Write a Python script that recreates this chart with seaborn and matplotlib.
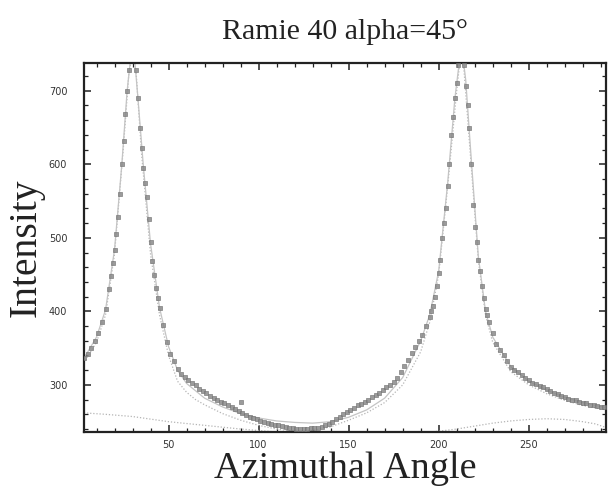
import matplotlib
matplotlib.use("Agg")
import matplotlib.pyplot as plt
import seaborn as sns
import pandas as pd
from matplotlib.ticker import MultipleLocator

# ---- data ----
angle = [3, 5, 7, 9, 11, 13, 15, 17, 18, 19, 20, 21, 22, 23, 24, 25, 26, 27, 28, 29,
         30, 31, 32, 33, 34, 35, 36, 37, 38, 39, 40, 41, 42, 43, 44, 45, 47, 49, 51, 53,
         55, 57, 59, 61, 63, 65, 67, 69, 71, 73, 75, 77, 79, 81, 83, 85, 87, 89, 90, 91,
         93, 95, 97, 99, 101, 103, 105, 107, 109, 111, 113, 115, 117, 119, 121, 123, 125, 127, 129, 131,
         133, 135, 137, 139, 141, 143, 145, 147, 149, 151, 153, 155, 157, 159, 161, 163, 165, 167, 169, 171,
         173, 175, 177, 179, 181, 183, 185, 187, 189, 191, 193, 195, 196, 197, 198, 199, 200, 201, 202, 203,
         204, 205, 206, 207, 208, 209, 210, 211, 212, 213, 214, 215, 216, 217, 218, 219, 220, 221, 222, 223,
         224, 225, 226, 227, 228, 230, 232, 234, 236, 238, 240, 242, 244, 246, 248, 250, 252, 254, 256, 258,
         260, 262, 264, 266, 268, 270, 272, 274, 276, 278, 280, 282, 284, 286, 288, 290, 292]
intensity = [337, 342, 350, 360, 371, 385, 403, 430, 448, 466, 484, 505, 528, 560, 600, 632, 668, 700, 728, 748,
             755, 750, 728, 690, 650, 622, 595, 575, 555, 525, 495, 468, 450, 432, 418, 404, 382, 358, 342, 333,
             322, 315, 311, 307, 303, 300, 295, 292, 289, 285, 282, 280, 277, 275, 273, 270, 267, 264, 277, 262,
             259, 257, 255, 253, 251, 250, 248, 247, 246, 245, 244, 243, 242, 241, 240, 240, 240, 240, 241, 241,
             242, 243, 245, 247, 250, 253, 257, 260, 263, 266, 269, 272, 274, 277, 280, 283, 286, 289, 293, 297,
             300, 304, 310, 318, 326, 334, 343, 352, 360, 368, 380, 393, 400, 407, 420, 435, 452, 470, 500, 520,
             540, 570, 600, 640, 665, 690, 710, 735, 752, 755, 735, 706, 680, 650, 600, 545, 515, 495, 470, 455,
             435, 418, 403, 395, 385, 370, 355, 348, 340, 333, 324, 320, 318, 314, 310, 306, 303, 301, 299, 297,
             295, 292, 289, 287, 285, 283, 281, 280, 279, 277, 276, 275, 273, 272, 271, 270, 270]

fit_angle = [3, 10, 15, 20, 24, 27, 29, 30, 31, 33, 36, 40, 45, 50, 55, 60, 70, 80, 90, 100,
             110, 120, 130, 140, 150, 160, 170, 180, 190, 195, 200, 205, 209, 212, 213, 215, 218, 222, 226, 230,
             240, 250, 260, 270, 280, 293]
fit_value = [336, 365, 402, 484, 598, 700, 745, 755, 748, 690, 598, 492, 405, 352, 320, 302, 282, 270, 261, 255,
             251, 249, 248, 250, 256, 266, 282, 310, 360, 395, 455, 575, 690, 750, 755, 715, 610, 475, 400, 365,
             325, 305, 293, 283, 276, 269]

comp_angle = [3, 10, 15, 20, 25, 28, 30, 32, 35, 40, 45, 50, 55, 60, 65, 70, 80, 90, 100, 110,
              120, 130, 140, 150, 160, 170, 180, 190, 195, 200, 205, 210, 212, 214, 218, 222, 226, 230, 240, 250,
              260, 270, 280, 293]
comp_value = [330, 358, 395, 478, 625, 725, 750, 725, 615, 478, 395, 340, 305, 290, 280, 273, 261, 252, 245, 240,
              237, 238, 243, 252, 262, 276, 300, 345, 385, 450, 570, 700, 745, 730, 600, 470, 395, 358, 318, 300,
              288, 279, 272, 266]

bg_angle = [3, 15, 30, 50, 70, 90, 110, 130, 150, 170, 190, 200, 210, 220, 230, 240, 250, 260, 270, 280, 287, 293]
bg_value = [262, 260, 257, 250, 245, 240, 236, 233, 232, 233, 235, 237, 240, 244, 248, 251, 253, 254, 253, 250, 247, 242]

title = "Ramie 40 alpha=45°"
xlabel = "Azimuthal Angle"
ylabel = "Intensity"

# ---- plot ----
sns.set_style("ticks")
plt.rcParams['font.family'] = ['DejaVu Sans']

fig = plt.figure(figsize=(6.08, 4.87), dpi=100)
ax = fig.add_axes([0.138, 0.113, 0.859, 0.758])

df = pd.DataFrame({"angle": angle, "intensity": intensity})
dfit = pd.DataFrame({"angle": fit_angle, "value": fit_value})
dcomp = pd.DataFrame({"angle": comp_angle, "value": comp_value})
dbg = pd.DataFrame({"angle": bg_angle, "value": bg_value})

sns.lineplot(data=dbg, x="angle", y="value", ax=ax, color="#b5b5b5", lw=0.9,
             linestyle=(0, (1, 1.5)), sort=True)
sns.lineplot(data=dcomp, x="angle", y="value", ax=ax, color="#b5b5b5", lw=0.9,
             linestyle=(0, (1, 1.5)), sort=True)
sns.lineplot(data=dfit, x="angle", y="value", ax=ax, color="#c4c4c4", lw=0.9, sort=True)
sns.scatterplot(data=df, x="angle", y="intensity", ax=ax, marker="s", s=11,
                color="#8a8a8a", edgecolor="#707070", linewidth=0.5, alpha=0.85, zorder=3)

ax.set_xlim(3, 293)
ax.set_ylim(236, 738)
ax.xaxis.set_major_locator(MultipleLocator(50))
ax.xaxis.set_minor_locator(MultipleLocator(10))
ax.yaxis.set_major_locator(MultipleLocator(100))
ax.yaxis.set_minor_locator(MultipleLocator(20))
ax.tick_params(which="both", direction="in", top=True, right=True, color="#222222",
               labelsize=7, labelcolor="#333333")
ax.tick_params(which="major", length=5, width=1.1)
ax.tick_params(which="minor", length=3, width=0.9)
ax.tick_params(axis="y", pad=12)
ax.tick_params(axis="x", pad=6)
for s in ax.spines.values():
    s.set_linewidth(1.6)
    s.set_color("#222222")

ax.set_title(title, fontsize=21.5, family="Liberation Serif", pad=17, color="#222222")
ax.set_xlabel(xlabel, fontsize=27.5, family="Liberation Serif", labelpad=1, color="#222222")
ax.set_ylabel(ylabel, fontsize=28.5, family="Liberation Serif", labelpad=3, color="#222222")

fig.savefig("out.png", dpi=100)
